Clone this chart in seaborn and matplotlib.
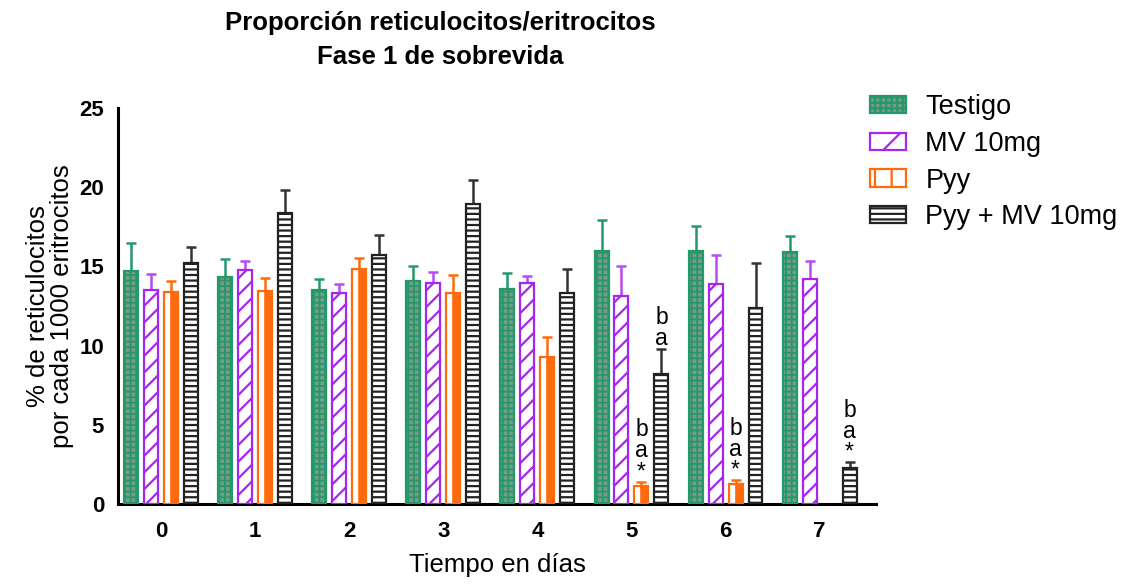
import numpy as np
import pandas as pd
import matplotlib
matplotlib.use("Agg")
import matplotlib.pyplot as plt
from matplotlib.patches import Patch
import seaborn as sns

# Values per day (mean and upper error) for each treatment group
days = ["0", "1", "2", "3", "4", "5", "6", "7"]
groups = ["Testigo", "MV 10mg", "Pyy", "Pyy + MV 10mg"]

testigo = [14.7, 14.35, 13.5, 14.05, 13.55, 16.0, 15.95, 15.9]
testigo_err = [1.75, 1.1, 0.7, 0.95, 1.05, 1.9, 1.6, 1.05]
mv10 = [13.5, 14.75, 13.3, 13.95, 13.95, 13.1, 13.9, 14.2]
mv10_err = [1.05, 0.6, 0.6, 0.7, 0.45, 1.95, 1.85, 1.15]
pyy = [13.4, 13.45, 14.85, 13.3, 9.25, 1.15, 1.25, np.nan]
pyy_err = [0.7, 0.8, 0.7, 1.15, 1.3, 0.25, 0.25, np.nan]
pyy_mv = [15.2, 18.35, 15.7, 18.95, 13.3, 8.2, 12.4, 2.25]
pyy_mv_err = [1.05, 1.5, 1.3, 1.5, 1.55, 1.6, 2.8, 0.4]

# Significance marks stacked above a bar (bottom to top)
marks = {
    ("5", "Pyy"): ["*", "a", "b"],
    ("6", "Pyy"): ["*", "a", "b"],
    ("5", "Pyy + MV 10mg"): ["a", "b"],
    ("7", "Pyy + MV 10mg"): ["*", "a", "b"],
}

values = {"Testigo": testigo, "MV 10mg": mv10, "Pyy": pyy, "Pyy + MV 10mg": pyy_mv}
errors = {"Testigo": testigo_err, "MV 10mg": mv10_err, "Pyy": pyy_err,
          "Pyy + MV 10mg": pyy_mv_err}

rows = []
for g in groups:
    for d, v in zip(days, values[g]):
        rows.append({"dia": d, "grupo": g, "valor": v})
df = pd.DataFrame(rows).dropna()

sns.set_theme(style="white")
plt.rcParams["font.family"] = ["Liberation Sans", "DejaVu Sans"]
plt.rcParams["hatch.linewidth"] = 1.6
plt.rcParams["text.color"] = "black"
plt.rcParams["axes.labelcolor"] = "black"

green = "#23996a"
green_face = "#7a9a8a"
purple = "#a626f0"
orange = "#ff6a0d"
black = "#222222"

styles = {
    "Testigo": dict(face=green_face, edge=green, hatch="+++", ecol=green),
    "MV 10mg": dict(face="white", edge=purple, hatch="//", ecol="#b54cf2"),
    "Pyy": dict(face="white", edge=orange, hatch=None, ecol=orange),
    "Pyy + MV 10mg": dict(face="white", edge=black, hatch="---", ecol="#333333"),
}

fig = plt.figure(figsize=(11.22, 5.84), dpi=100)
ax = fig.add_axes([118 / 1122, 80 / 584, 758 / 1122, 396 / 584])

sns.barplot(data=df, x="dia", y="valor", hue="grupo", order=days,
            hue_order=groups, errorbar=None, width=0.85, gap=0.3,
            palette=["#999999"] * 4, legend=False, ax=ax)

for g, cont in zip(groups, ax.containers):
    st = styles[g]
    for bar in cont:
        h = bar.get_height()
        if not np.isfinite(h):
            continue
        bar.set_facecolor(st["face"])
        bar.set_edgecolor(st["edge"])
        bar.set_linewidth(1.6)
        bar.set_zorder(3)
        if st["hatch"]:
            bar.set_hatch(st["hatch"])
        if g == "Testigo" and hasattr(bar, "set_hatch_linewidth"):
            bar.set_hatch_linewidth(1.3)
        xc = bar.get_x() + bar.get_width() / 2
        di = days[int(round(xc))]
        err = errors[g][int(round(xc))]
        if g == "Pyy":
            # solid right half of the bar
            ax.bar(bar.get_x() + bar.get_width() * 0.5, h,
                   width=bar.get_width() * 0.5, align="edge",
                   color=orange, edgecolor=orange, linewidth=1.2, zorder=4)
        ax.errorbar([xc], [h], yerr=[[0], [err]], fmt="none",
                    ecolor=st["ecol"], elinewidth=1.8, capsize=3.5,
                    capthick=1.8, zorder=2)
        if (di, g) in marks:
            top = h + err
            for k, m in enumerate(marks[(di, g)]):
                ax.annotate(m, xy=(xc, top), xytext=(0, 10 + 21 * k),
                            textcoords="offset pixels", ha="center",
                            va="center", fontsize=16.5, color="black",
                            zorder=6)

ax.set_xlim(-0.46, 7.6)
ax.set_ylim(0, 25)
ax.set_yticks([0, 5, 10, 15, 20, 25])
ax.set_xticks(range(len(days)))
ax.set_xticklabels(days)
for lab in ax.get_xticklabels() + ax.get_yticklabels():
    lab.set_fontweight("bold")
ax.tick_params(axis="both", direction="out", width=2,
               labelsize=16, color="black", labelcolor="black", pad=3)
ax.tick_params(axis="y", length=7)
ax.tick_params(axis="x", length=9)
for side in ["top", "right"]:
    ax.spines[side].set_visible(False)
for side in ["left", "bottom"]:
    ax.spines[side].set_linewidth(2.2)
    ax.spines[side].set_color("black")

ax.set_xlabel("Tiempo en días", fontsize=18.5, labelpad=8, color="black")
ax.set_ylabel("% de reticulocitos\npor cada 1000 eritrocitos", fontsize=18.5,
              labelpad=4, linespacing=1.0, color="black")

fig.suptitle("Proporción reticulocitos/eritrocitos\nFase 1 de sobrevida",
             x=440 / 1122, y=1 - 11 / 584, fontsize=18.5, fontweight="bold",
             linespacing=1.55, va="top", color="black")

handles = []
for g in groups:
    st = styles[g]
    if g == "Pyy":
        handles.append(Patch(facecolor="white", edgecolor=orange, hatch="|",
                             linewidth=1.6, label=g))
    else:
        handles.append(Patch(facecolor=st["face"], edgecolor=st["edge"],
                             hatch="/" if g == "MV 10mg" else st["hatch"],
                             linewidth=1.6, label=g))
fig.legend(handles=handles, loc="upper left",
           bbox_to_anchor=(859 / 1122, 1 - 83 / 584), frameon=False,
           fontsize=19.5, handlelength=1.35, handleheight=0.6,
           handletextpad=0.7, labelspacing=0.4, borderaxespad=0)

fig.savefig("out.png", dpi=100)
